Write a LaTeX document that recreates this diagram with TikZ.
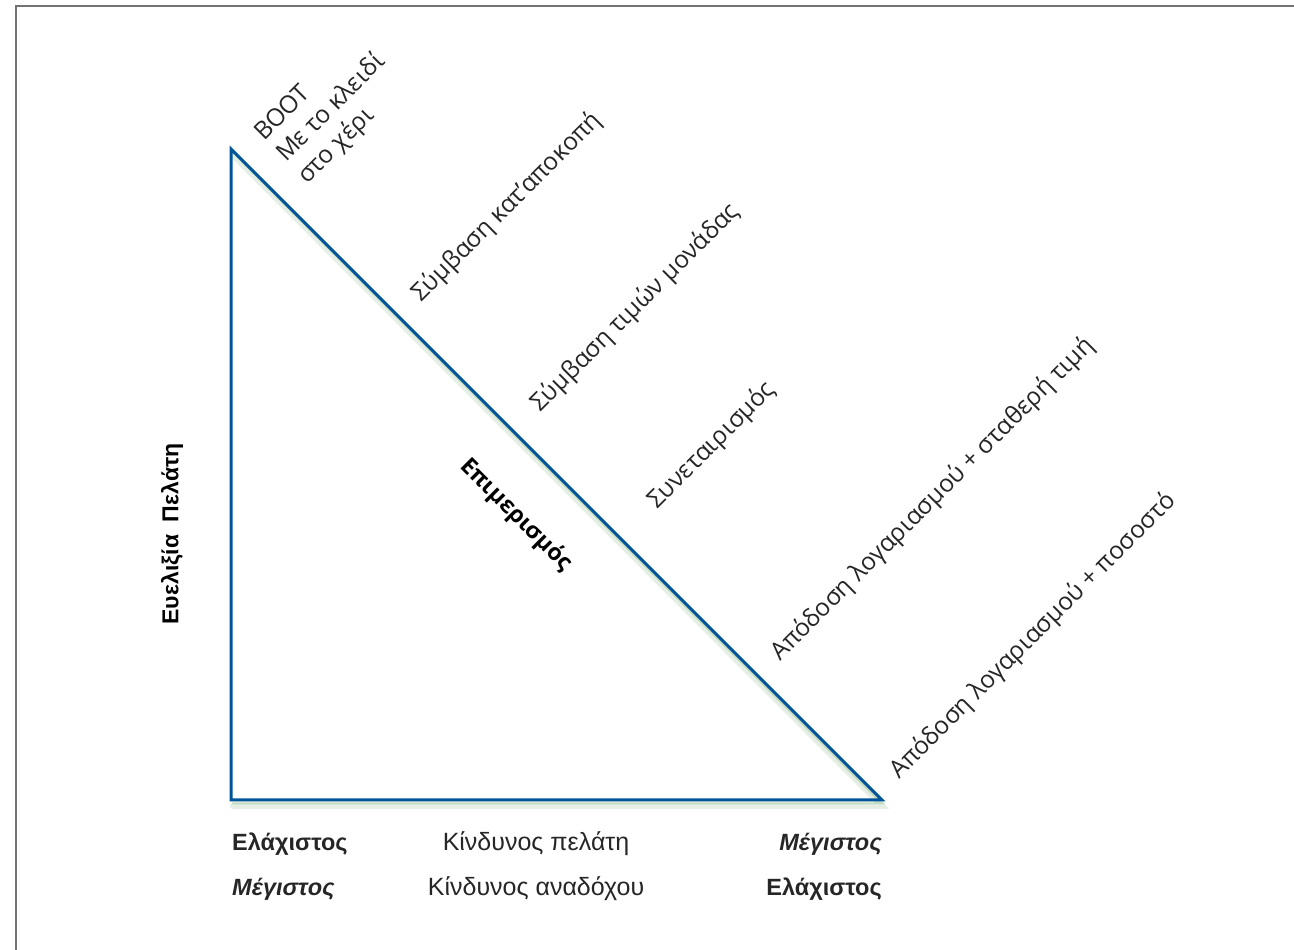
\documentclass[tikz,border=0pt]{standalone}
\usepackage{fontspec}
\usetikzlibrary{calc}
\setmainfont{Liberation Sans}
\newfontfamily\osans{Open Sans}
\begin{document}
\begin{tikzpicture}[x=1pt,y=1pt,
  diag/.style={rotate=45,anchor=base west,inner sep=0pt,font=\osans\fontsize{24.5}{28}\selectfont,text=black!85},
  lowlbl/.style={anchor=base,inner sep=0pt,font=\fontsize{25}{28}\selectfont,text=black!85},
  lowbold/.style={lowlbl,font=\bfseries\fontsize{23.5}{28}\selectfont},
  lowboldit/.style={lowlbl,font=\bfseries\itshape\fontsize{23.5}{28}\selectfont},
  edge/.style={line width=3pt,draw=blue!45!cyan!60!black,line join=miter},
  shade/.style={line width=6pt,draw=black!60!green,opacity=0.10,line cap=round}]
\useasboundingbox (0,0) rectangle (1294,950);
% page frame (top and left edges only)
\draw[line width=2pt,draw=black!55] (16,0) -- (16,944) -- (1294,944);
% corners of the triangle
\coordinate (top) at (231,801);
\coordinate (origin) at (231,150);
\coordinate (right) at (882,150);
% soft shadow under the edges
\draw[shade] ($(top)+(2,-6)$) -- ($(right)+(0,-6)$) -- ($(origin)+(2,-6)$);
\draw[shade,line width=3pt,opacity=0.15] ($(top)+(2,-3)$) -- ($(right)+(0,-3)$) -- ($(origin)+(2,-3)$);
\draw[edge] (top) -- (origin) -- (right) -- cycle;
% labels along the hypotenuse
\node[diag] (boot1) at (264,808) {BOOT};
\node[diag] (boot2) at (286,787) {Με το κλειδί};
\node[diag] (boot3) at (307,765) {στο χέρι};
\node[diag] (l1) at (421,647) {Σύμβαση κατ’αποκοπή};
\node[diag] (l2) at (540,537) {Σύμβαση τιμών μονάδας};
\node[diag] (l3) at (657,440) {Συνεταιρισμός};
\node[diag] (l4) at (780,288) {Απόδοση λογαριασμού + σταθερή τιμή};
\node[diag] (l5) at (899,170) {Απόδοση λογαριασμού + ποσοστό};
% inner label and vertical axis label
\node[rotate=-45,inner sep=0pt,font=\osans\bfseries\fontsize{23}{26}\selectfont] (epi) at (516,435) {Επιμερισμός};
\node[rotate=90,inner sep=0pt,font=\bfseries\fontsize{23}{26}\selectfont] (flex) at (172,416) {Ευελιξία~~Πελάτη};
% labels under the base
\node[lowbold,anchor=base west] (min1) at (232,99) {Ελάχιστος};
\node[lowlbl] (risk1) at (536,99) {Κίνδυνος πελάτη};
\node[lowboldit,anchor=base east] (max1) at (882,99) {Μέγιστος};
\node[lowboldit,anchor=base west] (max2) at (232,54) {Μέγιστος};
\node[lowlbl] (risk2) at (536,54) {Κίνδυνος αναδόχου};
\node[lowbold,anchor=base east] (min2) at (882,54) {Ελάχιστος};
\end{tikzpicture}
\end{document}
